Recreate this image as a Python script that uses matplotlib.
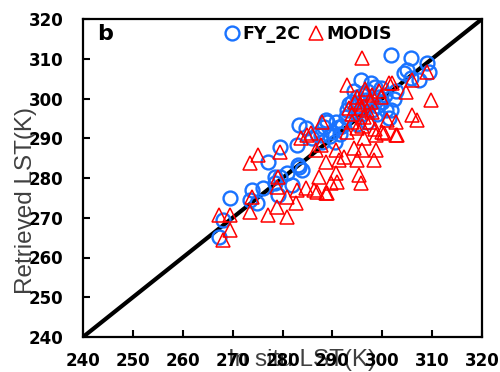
import numpy as np
import matplotlib
matplotlib.use('Agg')
import matplotlib.pyplot as plt

# in situ LST (K) vs retrieved LST (K)
fy2c_x = [267.2, 268.0, 269.4, 273.8, 273.4, 274.8, 276.0, 278.4, 279.0, 279.4,
          282.0, 277.0, 279.4, 283.0, 283.4, 283.4, 281.0, 284.0, 283.2, 289.0,
          284.8, 288.4, 290.0, 291.4, 292.8, 294.8, 295.8, 297.8, 294.4, 299.8,
          299.4, 296.8, 293.4, 300.8, 301.4, 301.8, 305.8, 305.0, 309.0, 309.4,
          304.4, 307.4, 305.8, 302.8, 302.4, 286.0, 287.0, 288.0, 289.5, 290.5,
          291.5, 292.0, 293.0, 294.0, 295.0, 296.0, 297.0, 298.0, 298.0, 299.0,
          300.0, 296.0, 297.0, 295.0, 298.5, 299.0, 300.5, 297.5, 295.0, 290.8,
          288.8, 287.8, 278.4, 301.8]
fy2c_y = [265.2, 269.4, 274.9, 277.0, 274.5, 273.7, 277.5, 278.7, 275.7, 280.2,
          278.2, 284.0, 287.8, 288.3, 293.3, 282.8, 281.3, 282.0, 283.3, 294.0,
          292.6, 292.8, 291.5, 292.8, 295.3, 296.4, 304.7, 304.0, 302.0, 302.6,
          300.4, 299.6, 298.5, 297.0, 295.0, 311.0, 310.2, 307.2, 309.0, 306.7,
          306.4, 304.7, 305.2, 302.0, 300.0, 290.0, 291.0, 289.0, 290.5, 289.0,
          291.0, 293.0, 297.0, 299.0, 298.0, 301.0, 302.0, 300.0, 297.0, 298.0,
          299.0, 296.0, 294.0, 293.5, 303.0, 296.0, 301.0, 298.5, 300.5, 294.1,
          294.6, 290.8, 280.3, 297.1]

modis_x = [267.2, 269.4, 269.4, 268.0, 273.4, 273.8, 273.4, 277.0, 278.8, 279.0,
           278.8, 281.0, 281.0, 282.8, 283.0, 284.8, 275.0, 279.4, 283.8, 285.8,
           288.0, 286.8, 288.8, 287.4, 289.0, 286.4, 289.8, 285.0, 287.8, 291.4,
           292.4, 290.8, 294.4, 296.0, 295.0, 298.8, 298.4, 296.4, 298.8, 300.4,
           302.8, 290.8, 291.0, 295.4, 295.8, 287.0, 288.8, 296.0, 293.0, 301.4,
           295.0, 296.8, 299.4, 293.4, 295.8, 297.8, 299.8, 294.0, 293.0, 295.0,
           296.4, 298.0, 301.0, 302.8, 298.5, 300.0, 309.0, 306.0, 304.8, 302.0,
           309.8, 306.0, 307.0, 303.0, 294.0, 295.5, 297.0, 296.0, 297.5, 294.5,
           298.0, 296.5]
modis_y = [270.7, 270.7, 266.9, 264.4, 283.8, 275.2, 271.4, 270.7, 272.7, 280.2,
           277.7, 270.2, 275.2, 273.7, 277.0, 277.5, 285.8, 286.5, 290.0, 291.3,
           294.0, 287.0, 284.0, 280.3, 276.2, 277.0, 278.7, 290.8, 288.3, 284.5,
           285.3, 287.0, 287.5, 287.0, 284.5, 287.0, 284.5, 290.0, 290.8, 291.3,
           290.8, 281.3, 279.0, 280.8, 278.7, 276.5, 276.2, 310.2, 303.4, 303.9,
           300.4, 301.5, 302.0, 297.6, 297.5, 299.0, 300.4, 294.1, 291.6, 292.6,
           295.3, 296.5, 294.6, 294.0, 292.3, 291.6, 306.7, 304.7, 301.6, 303.9,
           299.6, 295.8, 294.6, 290.8, 296.0, 298.5, 297.0, 293.0, 294.0, 299.0,
           301.0, 302.5]

ticks = [240, 250, 260, 270, 280, 290, 300, 310, 320]


def main():
    fig = plt.figure(figsize=(5, 3.72), dpi=100)
    ax = fig.add_axes([83 / 500, 1 - 337 / 372, 399 / 500, 318 / 372])

    ax.plot([240, 320], [240, 320], color='black', lw=3, zorder=1)
    ax.plot(fy2c_x, fy2c_y, 'o', ms=10, mfc='none', mec='#1a73ff', mew=1.7,
            label='FY_2C', zorder=2)
    ax.plot(modis_x, modis_y, '^', ms=10, mfc='none', mec='#ff0000', mew=1.1,
            label='MODIS', zorder=3)

    ax.set_xlim(240, 320)
    ax.set_ylim(240, 320)
    ax.set_xticks(ticks)
    ax.set_yticks(ticks)
    ax.tick_params(direction='in', length=5, width=1.5, labelsize=12)
    ax.tick_params(axis='x', pad=11)
    ax.tick_params(axis='y', pad=14)
    for lab in ax.get_xticklabels() + ax.get_yticklabels():
        lab.set_fontweight('bold')
    for sp in ax.spines.values():
        sp.set_linewidth(1.6)

    ax.text(0.035, 0.985, 'b', transform=ax.transAxes, fontsize=16,
            fontweight='bold', va='top', ha='left')
    ax.legend(loc='upper center', bbox_to_anchor=(0.564, 1.03), ncol=2,
              frameon=False, handletextpad=0.1, columnspacing=0.4,
              handlelength=1.0, prop={'weight': 'bold', 'size': 12.5})

    # axis titles sit behind the bold tick labels
    fig.text(26 / 500, 1 - 200 / 372, 'Retrieved LST(K)', rotation=90,
             ha='center', va='center', fontsize=17.5, color='#404040',
             family='Liberation Sans', zorder=-1)
    fig.text(302 / 500, 1 - 360 / 372, 'In situ LST(K)', ha='center',
             va='center', fontsize=17.5, color='#404040',
             family='Liberation Sans', zorder=-1)

    fig.savefig('out.png', dpi=100)


if __name__ == '__main__':
    main()
